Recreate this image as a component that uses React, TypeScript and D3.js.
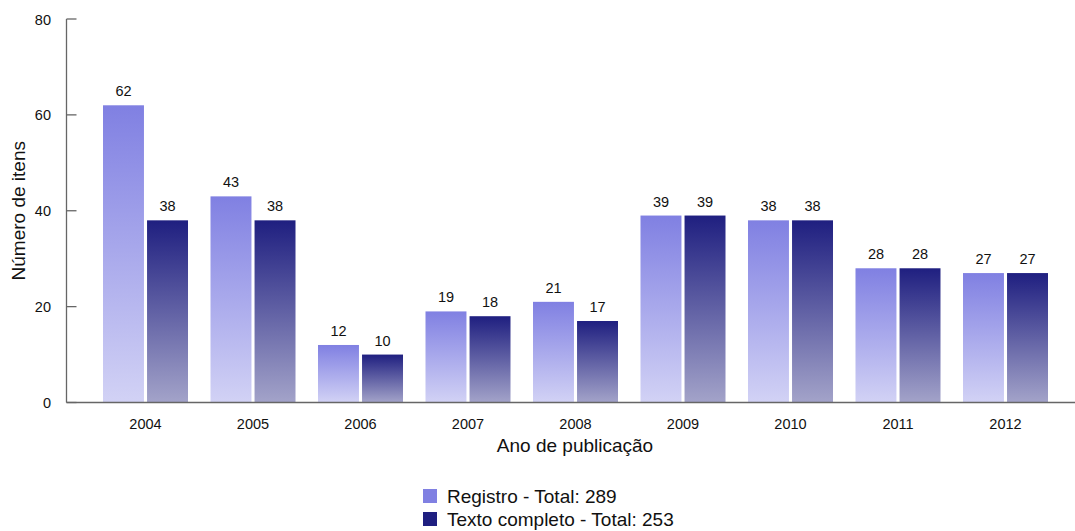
import React from "react";
import * as d3 from "d3";

const years = ["2004", "2005", "2006", "2007", "2008", "2009", "2010", "2011", "2012"];
const registro = [62, 43, 12, 19, 21, 39, 38, 28, 27];
const textoCompleto = [38, 38, 10, 18, 17, 39, 38, 28, 27];
const seriesNames = ["Registro - Total: 289", "Texto completo - Total: 253"];
const yTicks = [0, 20, 40, 60, 80];

const W = 1075;
const H = 531;
const axisX = 66.5;
const y0 = 402.5;
const yTop = 19;

export default function App() {
  const y = d3.scaleLinear().domain([0, 80]).range([y0, yTop]);
  const x = d3
    .scaleBand<string>()
    .domain(years)
    .range([91.75, 1059.25])
    .paddingInner(0.2093)
    .paddingOuter(0.1047);
  const inner = d3
    .scaleBand<string>()
    .domain(["r", "t"])
    .range([0, x.bandwidth()])
    .paddingInner(0.07);
  const font = "'Liberation Sans', Arial, sans-serif";
  const series = [
    { key: "r", values: registro, grad: "gradR" },
    { key: "t", values: textoCompleto, grad: "gradT" },
  ];
  const small = 14.5;
  const big = 19;
  return (
    <svg
      width={W}
      height={H}
      style={{ position: "absolute", left: 0, top: 0 }}
      fontFamily={font}
    >
      <defs>
        <linearGradient id="gradR" x1="0" y1="0" x2="0" y2="1">
          <stop offset="0" stopColor="#8080e2" />
          <stop offset="1" stopColor="#d2d2f5" />
        </linearGradient>
        <linearGradient id="gradT" x1="0" y1="0" x2="0" y2="1">
          <stop offset="0" stopColor="#1f1f80" />
          <stop offset="1" stopColor="#a3a3c9" />
        </linearGradient>
      </defs>
      {series.map((s) =>
        s.values.map((v, i) => {
          const bx = (x(years[i]) ?? 0) + (inner(s.key) ?? 0);
          const by = y(v);
          return (
            <g key={s.key + i}>
              <rect
                x={bx}
                y={by}
                width={inner.bandwidth()}
                height={y0 - by}
                fill={`url(#${s.grad})`}
              />
              <text
                x={bx + inner.bandwidth() / 2}
                y={by - 9}
                textAnchor="middle"
                fontSize={small}
                fill="#111"
              >
                {v}
              </text>
            </g>
          );
        })
      )}
      <line x1={axisX} x2={axisX} y1={yTop} y2={y0} stroke="#666" strokeWidth={1.3} />
      {yTicks.map((t) => (
        <g key={t}>
          <line x1={axisX} x2={axisX + 10} y1={y(t)} y2={y(t)} stroke="#666" strokeWidth={1.3} />
          <text x={51} y={y(t) + 5.5} textAnchor="end" fontSize={small} fill="#111">
            {t}
          </text>
        </g>
      ))}
      <line x1={axisX} x2={W} y1={y0} y2={y0} stroke="#666" strokeWidth={1.5} />
      {years.map((yr) => (
        <text
          key={yr}
          x={(x(yr) ?? 0) + x.bandwidth() / 2}
          y={429}
          textAnchor="middle"
          fontSize={small}
          fill="#111"
        >
          {yr}
        </text>
      ))}
      <text x={575} y={452} textAnchor="middle" fontSize={big} fill="#111">
        Ano de publicação
      </text>
      <text
        transform={`translate(25, ${(yTop + y0) / 2}) rotate(-90)`}
        textAnchor="middle"
        fontSize={big}
        fill="#111"
      >
        Número de itens
      </text>
      {seriesNames.map((n, i) => (
        <g key={n} transform={`translate(423, ${489 + i * 23})`}>
          <rect width={14} height={14} fill={i === 0 ? "#8080e2" : "#1f1f80"} />
          <text x={24} y={14} fontSize={big} fill="#111">
            {n}
          </text>
        </g>
      ))}
    </svg>
  );
}
